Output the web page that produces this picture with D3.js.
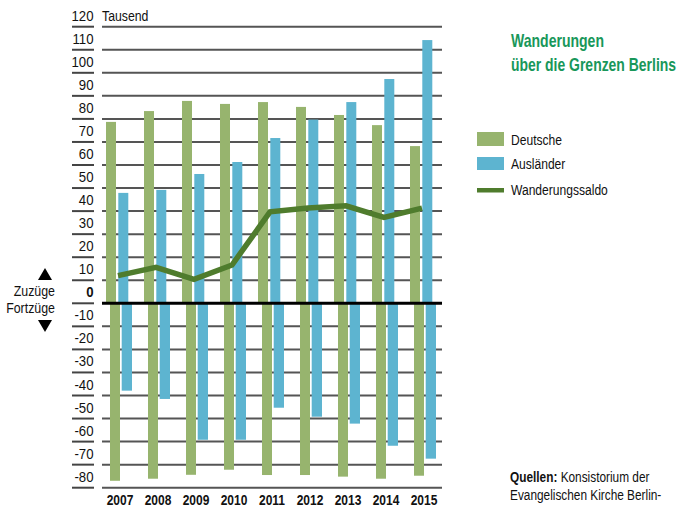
<!DOCTYPE html>
<html><head><meta charset="utf-8">
<script src="https://cdn.jsdelivr.net/npm/d3@7"></script>
<style>
html,body{margin:0;padding:0;background:#fff;}
svg{display:block;font-family:"Liberation Sans",Arial,sans-serif;}
</style></head>
<body><svg id="c" width="678" height="507"></svg>
<script>
const years = [2007, 2008, 2009, 2010, 2011, 2012, 2013, 2014, 2015];
const deutscheZuzuege = [78.7, 83.4, 87.8, 86.5, 87.3, 85.2, 81.7, 77.3, 68.2];
const auslaenderZuzuege = [47.9, 49.2, 56.1, 61.3, 71.7, 79.7, 87.3, 97.3, 114.2];
const deutscheFortzuege = [77.0, 76.1, 74.4, 72.2, 74.5, 74.5, 75.2, 76.1, 74.8];
const auslaenderFortzuege = [37.9, 41.5, 59.2, 59.2, 45.3, 49.2, 52.2, 61.8, 67.4];
const wanderungssaldo = [12.0, 15.6, 10.4, 16.6, 39.7, 41.3, 42.3, 37.3, 41.3];
const tickValues = [120, 110, 100, 90, 80, 70, 60, 50, 40, 30, 20, 10, 0, -10, -20, -30, -40, -50, -60, -70, -80];
const legendLabels = ["Deutsche", "Ausländer", "Wanderungssaldo"];

const C_GREEN = "#97b46e", C_BLUE = "#5db4d0", C_LINE = "#4f7c2d", C_TITLE = "#18975a";

const svg = d3.select("#c");
const y = d3.scaleLinear().domain([-80, 120]).range([487.7, 26.7]);
const x = d3.scaleBand().domain(years).range([98, 98 + 38 * years.length]).padding(0);
const cx = yr => x(yr) + x.bandwidth() / 2;

// condensed text helper: horizontal compression around the anchor point
function ctext(parent, px, py, str, o = {}) {
  const t = parent.append("text")
    .attr("transform", `translate(${px},${py}) scale(${o.sx || 0.8},1)`)
    .attr("font-size", o.size || 15)
    .attr("font-weight", o.bold ? "bold" : "normal")
    .attr("text-anchor", o.anchor || "start")
    .attr("fill", o.fill || "#111");
  if (str !== null) t.text(str);
  return t;
}

// grid lines
const grid = svg.append("g");
grid.selectAll("line.g").data(tickValues.filter(t => t !== 0)).join("line")
  .attr("x1", 102).attr("x2", 442)
  .attr("y1", d => y(d)).attr("y2", d => y(d))
  .attr("stroke", "#555").attr("stroke-width", 2);
grid.selectAll("line.t").data(tickValues).join("line")
  .attr("x1", 72).attr("x2", 94)
  .attr("y1", d => y(d)).attr("y2", d => y(d))
  .attr("stroke", "#444").attr("stroke-width", 2);
tickValues.forEach(d => ctext(grid, 93.5, y(d) - 6, d, { size: 15, sx: 0.88, anchor: "end", bold: d === 0 }));
ctext(svg, 102, y(120) - 6, "Tausend", { size: 15, sx: 0.82 });

// bars
const idx = years.map((d, i) => i);
svg.append("g").selectAll("rect").data(idx).join("rect")
  .attr("x", i => cx(years[i]) - 11).attr("width", 10)
  .attr("y", i => y(deutscheZuzuege[i])).attr("height", i => y(0) - y(deutscheZuzuege[i]))
  .attr("fill", C_GREEN);
svg.append("g").selectAll("rect").data(idx).join("rect")
  .attr("x", i => cx(years[i]) + 1.3).attr("width", 10)
  .attr("y", i => y(auslaenderZuzuege[i])).attr("height", i => y(0) - y(auslaenderZuzuege[i]))
  .attr("fill", C_BLUE);
svg.append("g").selectAll("rect").data(idx).join("rect")
  .attr("x", i => cx(years[i]) - 7).attr("width", 10)
  .attr("y", y(0)).attr("height", i => y(-deutscheFortzuege[i]) - y(0))
  .attr("fill", C_GREEN);
svg.append("g").selectAll("rect").data(idx).join("rect")
  .attr("x", i => cx(years[i]) + 4.7).attr("width", 10.3)
  .attr("y", y(0)).attr("height", i => y(-auslaenderFortzuege[i]) - y(0))
  .attr("fill", C_BLUE);

// zero line
svg.append("line").attr("x1", 102).attr("x2", 442).attr("y1", y(0)).attr("y2", y(0))
  .attr("stroke", "#000").attr("stroke-width", 3);

// saldo line
svg.append("path").datum(idx)
  .attr("d", d3.line().x(i => cx(years[i]) + 1).y(i => y(wanderungssaldo[i])))
  .attr("fill", "none").attr("stroke", C_LINE).attr("stroke-width", 5.5)
  .attr("stroke-linejoin", "miter");

// year labels
const yl = svg.append("g");
years.forEach(d => ctext(yl, cx(d) + 3, 504.5, d, { size: 15, sx: 0.8, bold: true, anchor: "middle" }));

// Zuzüge / Fortzüge
svg.append("path").attr("d", "M45,268 L52,280 L38,280 Z").attr("fill", "#000");
svg.append("path").attr("d", "M38,320 L52,320 L45,332 Z").attr("fill", "#000");
ctext(svg, 55, 296, "Zuzüge", { size: 15.5, sx: 0.8, anchor: "end" });
ctext(svg, 55, 312.5, "Fortzüge", { size: 15.5, sx: 0.8, anchor: "end" });

// title
ctext(svg, 511, 47, "Wanderungen", { size: 18, sx: 0.78, bold: true, fill: C_TITLE });
ctext(svg, 511, 71, "über die Grenzen Berlins", { size: 18, sx: 0.775, bold: true, fill: C_TITLE });

// legend
const lg = svg.append("g");
lg.append("rect").attr("x", 477).attr("y", 132).attr("width", 27).attr("height", 14).attr("fill", C_GREEN);
lg.append("rect").attr("x", 477).attr("y", 157).attr("width", 27).attr("height", 13).attr("fill", C_BLUE);
lg.append("rect").attr("x", 477).attr("y", 188).attr("width", 27).attr("height", 4.5).attr("fill", C_LINE);
legendLabels.forEach((d, i) => ctext(lg, 511, [145, 169, 195][i], d, { size: 15.5, sx: 0.78 }));

// source
const src = ctext(svg, 510, 482, null, { size: 15, sx: 0.79 });
src.append("tspan").attr("font-weight", "bold").text("Quellen:");
src.append("tspan").text(" Konsistorium der");
ctext(svg, 510, 500, "Evangelischen Kirche Berlin-", { size: 15, sx: 0.79 });
</script></body></html>
